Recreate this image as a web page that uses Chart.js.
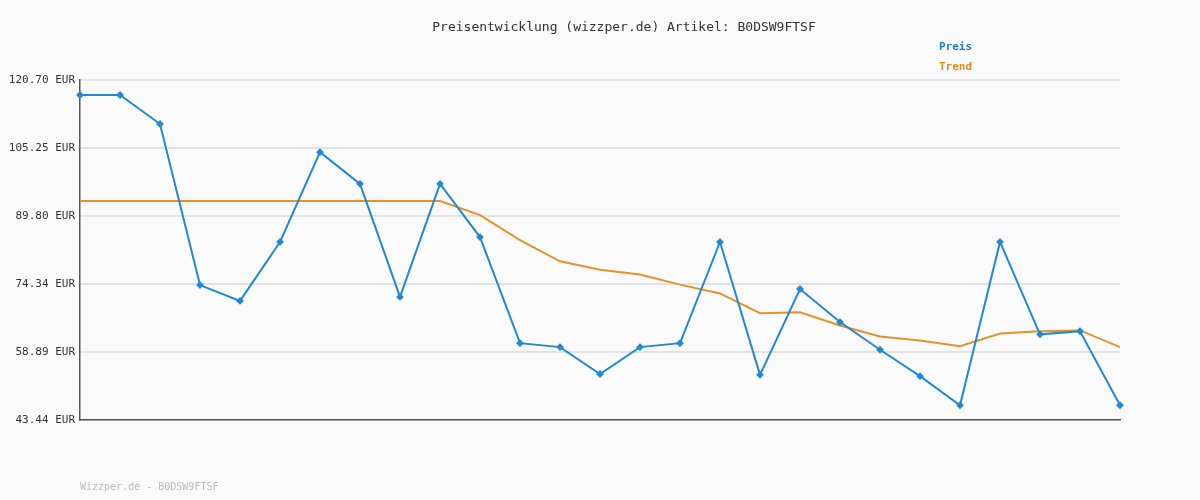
<!DOCTYPE html>
<html>
<head>
<meta charset="utf-8">
<script src="https://cdn.jsdelivr.net/npm/chart.js@4"></script>
<style>
  html, body { margin: 0; padding: 0; background: #fafafa; }
  #wrap { width: 1200px; height: 500px; }
</style>
</head>
<body>
<div id="wrap"><canvas id="myChart"></canvas></div>
<script>
const labels = ['1','2','3','4','5','6','7','8','9','10','11','12','13','14','15','16','17','18','19','20','21','22','23','24','25','26','27'];
const preis = [117.3, 117.3, 110.7, 74.1, 70.5, 83.9, 104.3, 97.1, 71.4, 97.1, 85.0, 60.9, 60.0, 53.9, 60.0, 60.9, 83.9, 53.7, 73.2, 65.7, 59.4, 53.4, 46.8, 83.9, 62.9, 63.6, 46.8];
const trend = [93.2, 93.2, 93.2, 93.2, 93.2, 93.2, 93.2, 93.2, 93.2, 93.2, 90.0, 84.3, 79.5, 77.6, 76.5, 74.2, 72.2, 67.7, 67.9, 64.9, 62.4, 61.5, 60.2, 63.1, 63.6, 63.8, 60.0];
const yTicks = [43.44, 58.89, 74.34, 89.80, 105.25, 120.70];

const font = "'DejaVu Sans Mono', monospace";

// title, legend and footer text
const textPlugin = {
	id: 'texts',
	afterDraw(chart) {
		const ctx = chart.ctx;
		ctx.save();
		ctx.font = '13px ' + font;
		ctx.fillStyle = '#333';
		ctx.textAlign = 'center';
		ctx.textBaseline = 'middle';
		ctx.fillText('Preisentwicklung (wizzper.de) Artikel: B0DSW9FTSF', 624, 28);
		ctx.font = 'bold 11px ' + font;
		ctx.textAlign = 'left';
		ctx.fillStyle = '#1f7fc4';
		ctx.fillText('Preis', 939, 47);
		ctx.fillStyle = '#e08a1e';
		ctx.fillText('Trend', 939, 67);
		ctx.font = '10px ' + font;
		ctx.fillStyle = '#bbb';
		ctx.fillText('Wizzper.de - B0DSW9FTSF', 80, 487);
		ctx.restore();
	}
};

new Chart('myChart', {
	type: 'line',
	data: {
		labels: labels,
		datasets: [
			{
				label: 'Preis',
				data: preis,
				borderColor: '#2288d4',
				backgroundColor: '#2288d4',
				borderWidth: 2,
				pointStyle: 'rectRot',
				pointRadius: 2.5,
				tension: 0,
			},
			{
				label: 'Trend',
				data: trend,
				borderColor: '#e8912a',
				borderWidth: 2,
				pointRadius: 0,
				tension: 0,
			},
		],
	},
	options: {
		responsive: true,
		maintainAspectRatio: false,
		animation: false,
		layout: { padding: { top: 80, right: 80, bottom: 80, left: 0 } },
		plugins: { legend: { display: false }, tooltip: { enabled: false } },
		scales: {
			x: {
				offset: false,
				ticks: { display: false },
				grid: { display: false, drawTicks: false },
				border: { color: '#555', width: 1.5 },
			},
			y: {
				min: 43.44,
				max: 120.70,
				afterBuildTicks: scale => {
					scale.ticks = yTicks.map(v => ({ value: v }));
				},
				afterFit: scale => {
					scale.width = 80;
				},
				ticks: {
					font: { family: font, size: 11 },
					color: '#333',
					padding: 5,
					callback: v => v.toFixed(2) + ' EUR',
				},
				grid: { color: '#e2e2e2', lineWidth: 2, drawTicks: false },
				border: { color: '#555', width: 1.5 },
			},
		},
	},
	plugins: [textPlugin],
});
</script>
</body>
</html>
